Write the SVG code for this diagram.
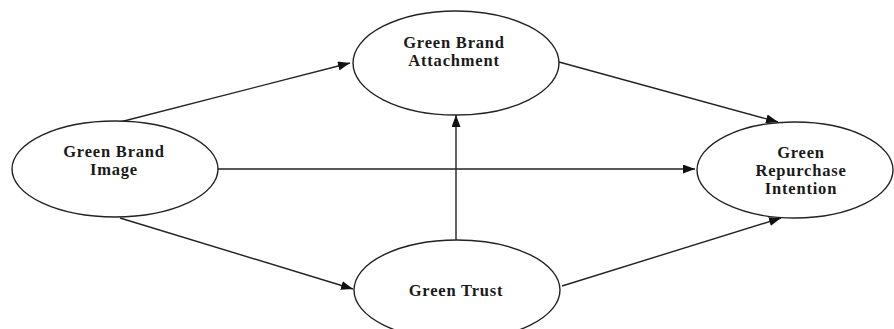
<svg xmlns="http://www.w3.org/2000/svg" width="894" height="329" viewBox="0 0 894 329">
<style>
.node ellipse{fill:#fff;stroke:#222;stroke-width:1.4}
.node text{font-family:"Liberation Serif","Times New Roman",serif;font-weight:bold;font-size:16.5px;letter-spacing:0.8px;fill:#1a1a1a;text-anchor:middle}
.edges line{stroke:#222;stroke-width:1.4;marker-end:url(#arrow)}
</style>
<defs>
<marker id="arrow" markerUnits="userSpaceOnUse" markerWidth="12" markerHeight="9" refX="12" refY="4.5" orient="auto">
<path d="M0,0 L12,4.5 L0,9 z" fill="#111"/>
</marker>
</defs>
<rect width="894" height="329" fill="#fff"/>
<g class="edges" id="connectors">
<line x1="120" y1="122" x2="350" y2="63"/>
<line x1="218" y1="169" x2="695" y2="169"/>
<line x1="120" y1="218" x2="353" y2="289"/>
<line x1="456" y1="240" x2="456" y2="115"/>
<line x1="559" y1="62" x2="778" y2="122"/>
<line x1="562" y1="286" x2="781" y2="218"/>
</g>
<g class="node" id="gbi">
<ellipse cx="115" cy="169" rx="103" ry="48"/>
<text x="114" y="157">Green Brand</text>
<text x="114" y="175">Image</text>
</g>
<g class="node" id="gba">
<ellipse cx="456" cy="63" rx="103" ry="52"/>
<text x="454" y="48">Green Brand</text>
<text x="454" y="66">Attachment</text>
</g>
<g class="node" id="gri">
<ellipse cx="795" cy="170" rx="98" ry="48"/>
<text x="801" y="158">Green</text>
<text x="801" y="176">Repurchase</text>
<text x="801" y="194">Intention</text>
</g>
<g class="node" id="gt">
<ellipse cx="457" cy="290" rx="103" ry="50"/>
<text x="456" y="296">Green Trust</text>
</g>
</svg>
